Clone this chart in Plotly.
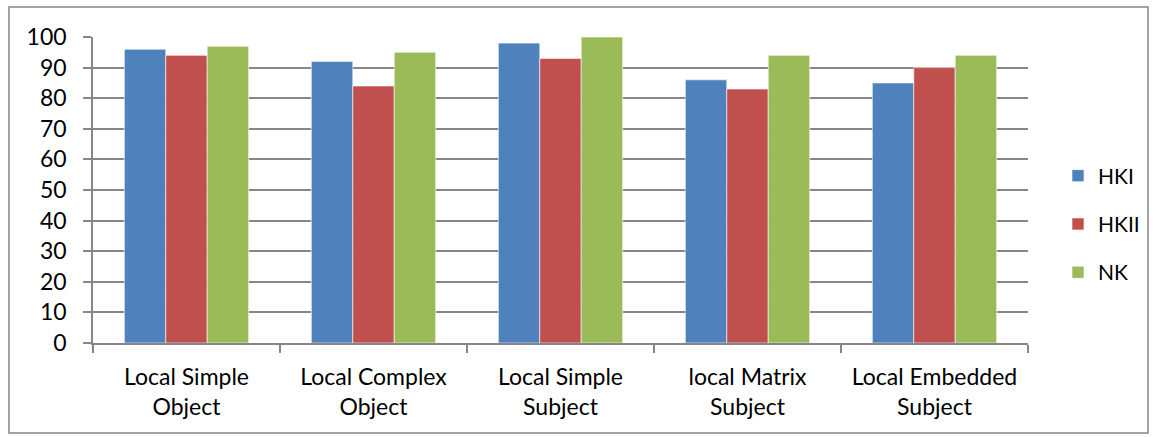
import plotly.graph_objects as go

categories = ["Local Simple<br>Object", "Local Complex<br>Object", "Local Simple<br>Subject",
              "local Matrix<br>Subject", "Local Embedded<br>Subject"]
hki = [96, 92, 98, 86, 85]
hkii = [94, 84, 93, 83, 90]
nk = [97, 95, 100, 94, 94]
series_names = ["HKI", "HKII", "NK"]
colors = ["#4F81BD", "#C0504D", "#9BBB59"]

fig = go.Figure()
for name, vals, col in zip(series_names, [hki, hkii, nk], colors):
    fig.add_trace(go.Bar(x=categories, y=vals, name=name, legendgroup=name,
                         marker=dict(color=col, line=dict(color="white", width=0.6))))

W, H = 1157, 437
L, R, T, B = 93, 129, 37, 94
pw, ph = W - L - R, H - T - B

def px(x):
    return (x - L) / pw

def py(y):
    return (H - B - y) / ph

fig.update_layout(
    width=W, height=H,
    margin=dict(l=L, r=R, t=T, b=B),
    paper_bgcolor="white", plot_bgcolor="white",
    barmode="group", bargap=0.335, bargroupgap=0,
    font=dict(family="Lato, Carlito, Calibri, sans-serif", size=23, color="black"),
    legend=dict(x=px(1058), y=py(224), xanchor="left", yanchor="middle",
                traceorder="grouped", tracegroupgap=18, borderwidth=0,
                bgcolor="rgba(0,0,0,0)",
                font=dict(size=21), itemwidth=30),
    xaxis=dict(showline=True, linecolor="#868686", linewidth=1.5,
               ticks="outside", ticklen=8, tickcolor="#868686", tickwidth=1.5,
               tickson="boundaries", showgrid=False, ticklabelstandoff=13),
    yaxis=dict(range=[0, 100], dtick=10, showline=True, linecolor="#868686", linewidth=1.5,
               ticks="outside", ticklen=8, tickcolor="#868686", tickwidth=1.5,
               showgrid=True, gridcolor="#868686", gridwidth=1.5, zeroline=False,
               ticklabelstandoff=12),
    shapes=[dict(type="rect", xref="paper", yref="paper",
                 x0=px(9), x1=px(1148), y0=py(433), y1=py(7),
                 line=dict(color="#868686", width=1.5), fillcolor="rgba(0,0,0,0)",
                 layer="below")],
)

fig.write_html("out.html")
